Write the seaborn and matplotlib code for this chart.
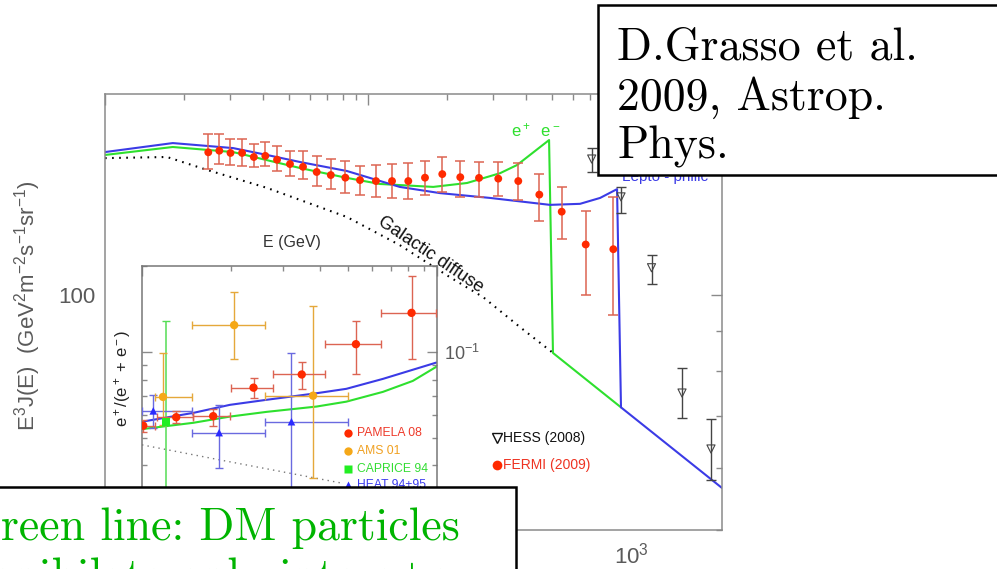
import matplotlib
matplotlib.use("Agg")
import matplotlib.pyplot as plt
import seaborn as sns
import numpy as np
import pandas as pd
from matplotlib.patches import Rectangle
from matplotlib.ticker import (FixedLocator, FixedFormatter, LogLocator,
                               NullFormatter, LogFormatterMathtext)

# ---------------- data (main panel: E [GeV], E^3 J(E)) ----------------
fermi_E = [24.7, 27.2, 30.0, 33.2, 36.8, 40.7, 45.1, 50.5, 56.6, 63.8, 72.2, 82.0, 93.2,
           107.2, 123.4, 142.3, 164.7, 191.6, 224.3, 264.3, 312.8, 372.7, 448.1, 545.1,
           672.6, 856.5]
fermi_J = [152.4, 153.1, 152.1, 152.1, 150.3, 150.8, 149.1, 147.2, 146.0, 143.8, 142.5,
           141.4, 140.4, 140.0, 140.0, 140.0, 141.4, 142.9, 141.6, 141.3, 141.0, 140.0,
           134.5, 127.9, 116.1, 114.5]
fermi_hi = [160.8, 160.8, 158.5, 158.5, 156.2, 157.0, 155.4, 153.1, 153.1, 150.8, 149.5,
            148.6, 146.3, 146.7, 147.2, 147.5, 148.6, 150.4, 148.5, 148.2, 148.2, 147.8,
            142.8, 137.4, 128.2, 133.7]
fermi_lo = [144.9, 147.1, 146.7, 146.3, 145.8, 146.2, 144.2, 142.1, 141.0, 138.0, 136.8,
            135.0, 134.4, 133.6, 133.2, 132.6, 134.2, 135.6, 133.7, 133.6, 133.9, 132.3,
            124.5, 118.0, 100.0, 94.3]

hess_E = [708.8, 916.2, 1196.7, 1563.0, 2014.0]
hess_J = [149.4, 133.6, 108.4, 74.9, 63.5]
hess_hi = [154.5, 137.7, 112.7, 80.7, 69.3]
hess_lo = [143.9, 127.4, 103.2, 69.6, 58.0]

lepto_E = [10.0, 18.1, 30.7, 41.3, 55.1, 83.2, 132.0, 188.0, 291.0, 492.0, 640.0, 763.0,
           885.0, 916.0, 2218.0]
lepto_J = [152.5, 156.6, 154.3, 151.2, 148.1, 144.2, 137.6, 135.1, 133.2, 130.5, 130.9,
           133.2, 136.7, 71.8, 56.6]

dm_E = [10.0, 18.1, 30.7, 41.3, 55.1, 83.2, 111.0, 177.0, 238.0, 318.0, 369.0, 488.0,
        505.0, 916.0]
dm_J = [151.2, 154.8, 152.5, 148.9, 145.5, 141.3, 138.8, 137.6, 139.2, 143.3, 146.8,
        158.0, 84.3, 71.8]

gal_E = [10.0, 17.2, 24.4, 41.3, 83.2, 132.0, 205.0, 274.0, 378.0, 501.0]
gal_J = [149.8, 150.3, 144.7, 137.2, 125.9, 115.9, 105.4, 99.4, 91.0, 84.5]

x_tick_labels = ['', '', r'$10^3$']
y_tick_labels = ['100']

# ---------------- data (inset: positron fraction) ----------------
pam_E = [10.10, 13.06, 17.43, 23.88, 34.79, 53.11, 81.98]
pam_xlo = [9.84, 11.21, 14.92, 19.96, 27.82, 41.86, 64.75]
pam_xhi = [11.07, 14.92, 19.86, 27.82, 41.86, 64.75, 99.4]
pam_f = [0.0551, 0.0590, 0.0595, 0.0749, 0.0833, 0.1064, 0.1370]
pam_flo = [0.0525, 0.0562, 0.0551, 0.0690, 0.0742, 0.0833, 0.0945]
pam_fhi = [0.0577, 0.0621, 0.0631, 0.0809, 0.0925, 0.1281, 0.1848]

ams_E = [11.78, 20.53, 38.00]
ams_xlo = [11.07, 14.73, 26.22]
ams_xhi = [14.73, 26.22, 49.90]
ams_f = [0.0695, 0.1241, 0.0702]
ams_flo = [0.0555, 0.0945, 0.0360]
ams_fhi = [0.0989, 0.1615, 0.1450]

cap_E = [12.06]
cap_f = [0.0567]
cap_flo = [0.020]
cap_fhi = [0.1288]

heat_E = [10.92, 18.26, 32.11]
heat_xlo = [10.0, 14.73, 26.22]
heat_xhi = [14.73, 26.22, 49.90]
heat_f = [0.0621, 0.0521, 0.0569]
heat_flo = [0.0540, 0.0393, 0.020]
heat_fhi = [0.0705, 0.0652, 0.0989]

in_blue_E = [10.0, 14.92, 19.86, 26.42, 39.02, 49.28, 65.56, 99.4]
in_blue_f = [0.0569, 0.0611, 0.0652, 0.0679, 0.0716, 0.0742, 0.0804, 0.0917]
in_green_E = [10.0, 14.92, 19.86, 26.42, 39.02, 49.28, 65.56, 82.81, 99.4]
in_green_f = [0.0536, 0.0564, 0.0593, 0.0616, 0.0643, 0.0669, 0.0724, 0.0791, 0.0886]
in_gal_E = [10.0, 18.37, 47.99]
in_gal_f = [0.0472, 0.0418, 0.0346]

legend_labels = ["PAMELA 08", "AMS 01", "CAPRICE 94", "HEAT 94+95"]

# ---------------- style ----------------
sns.set_theme(style="white")
plt.rcParams['font.family'] = ['Liberation Sans', 'DejaVu Sans']
plt.rcParams['mathtext.fontset'] = 'custom'
plt.rcParams['mathtext.rm'] = 'Liberation Sans'
plt.rcParams['mathtext.it'] = 'Liberation Sans:italic'
plt.rcParams['mathtext.bf'] = 'Liberation Sans:bold'
plt.rcParams['axes.unicode_minus'] = False

W, H = 997, 569
fig = plt.figure(figsize=(W / 100, H / 100), dpi=100)
fig.patch.set_facecolor('white')

GREEN = '#2ee02e'
BLUE = '#3b3be6'
RED = '#ff2a00'
RED_ERR = '#dc6452'
ORANGE = '#f5a818'
AXC = '#8a8a8a'
TXT = '#5a5a5a'

# ---------------- main axes ----------------
ax = fig.add_axes([105 / W, (H - 530) / H, 617 / W, 436 / H])
ax.set_xscale('log')
ax.set_yscale('log')

sns.lineplot(x=gal_E, y=gal_J, ax=ax, color='black', lw=1.5, linestyle=(0, (0.8, 2.6)),
             sort=False, estimator=None)
sns.lineplot(x=dm_E, y=dm_J, ax=ax, color=GREEN, lw=1.5, sort=False, estimator=None)
sns.lineplot(x=lepto_E, y=lepto_J, ax=ax, color=BLUE, lw=1.5, sort=False, estimator=None)

fJ = np.array(fermi_J)
ax.errorbar(fermi_E, fermi_J, yerr=[fJ - np.array(fermi_lo), np.array(fermi_hi) - fJ],
            fmt='none', ecolor=RED_ERR, elinewidth=1.1, capsize=3.3, capthick=1.1, zorder=4)
sns.scatterplot(x=fermi_E, y=fermi_J, ax=ax, color=RED, s=32, edgecolor='none', zorder=5)

hJ = np.array(hess_J)
ax.errorbar(hess_E, hess_J, yerr=[hJ - np.array(hess_lo), np.array(hess_hi) - hJ],
            fmt='none', ecolor='#444444', elinewidth=1.0, capsize=3.3, capthick=1.0, zorder=4)
sns.scatterplot(x=hess_E, y=hess_J, ax=ax, marker='v', color='#444444', s=34,
                linewidth=0.8, zorder=5)
ax.collections[-1].set_facecolor('none')
ax.collections[-1].set_edgecolor('#444444')

ax.set_xlim(10, 2218)
ax.set_ylim(50, 181)
ax.set_xlabel('')
ax.set_ylabel('')
ax.xaxis.set_major_locator(FixedLocator([10, 100, 1000]))
ax.xaxis.set_major_formatter(FixedFormatter(x_tick_labels))
ax.xaxis.set_minor_locator(LogLocator(base=10, subs=np.arange(2, 10)))
ax.xaxis.set_minor_formatter(NullFormatter())
ax.yaxis.set_major_locator(FixedLocator([100]))
ax.yaxis.set_major_formatter(FixedFormatter(y_tick_labels))
ax.yaxis.set_minor_locator(LogLocator(base=10, subs=np.arange(2, 10)))
ax.yaxis.set_minor_formatter(NullFormatter())
ax.tick_params(which='both', direction='in', top=True, right=True, color=AXC,
               labelcolor=TXT, labelsize=16, width=1.0)
ax.tick_params(which='major', length=8)
ax.tick_params(which='minor', length=4.3)
ax.tick_params(axis='y', pad=7)
ax.tick_params(axis='x', pad=9)
for s in ax.spines.values():
    s.set_color(AXC)
    s.set_linewidth(1.1)

# ---------------- inset axes ----------------
ins = fig.add_axes([142 / W, (H - 501) / H, 295 / W, 235 / H], zorder=5)
ins.set_facecolor('white')
ins.set_xscale('log')
ins.set_yscale('log')

sns.lineplot(x=in_gal_E, y=in_gal_f, ax=ins, color='#777777', lw=1.0,
             linestyle=(0, (1, 3)), sort=False, estimator=None)
sns.lineplot(x=in_green_E, y=in_green_f, ax=ins, color=GREEN, lw=1.5, sort=False, estimator=None)
sns.lineplot(x=in_blue_E, y=in_blue_f, ax=ins, color=BLUE, lw=1.5, sort=False, estimator=None)


def xy_err(E, xlo, xhi, f, flo, fhi):
    E = np.array(E); f = np.array(f)
    xerr = None if xlo is None else [E - np.array(xlo), np.array(xhi) - E]
    yerr = [f - np.array(flo), np.array(fhi) - f]
    return xerr, yerr


xe, ye = xy_err(cap_E, None, None, cap_f, cap_flo, cap_fhi)
ins.errorbar(cap_E, cap_f, yerr=ye, fmt='none', ecolor='#55dd55', elinewidth=1.1,
             capsize=3, zorder=3)
xe, ye = xy_err(heat_E, heat_xlo, heat_xhi, heat_f, heat_flo, heat_fhi)
ins.errorbar(heat_E, heat_f, xerr=xe, yerr=ye, fmt='none', ecolor='#6a6ae0', elinewidth=1.0,
             capsize=3, zorder=3)
xe, ye = xy_err(ams_E, ams_xlo, ams_xhi, ams_f, ams_flo, ams_fhi)
ins.errorbar(ams_E, ams_f, xerr=xe, yerr=ye, fmt='none', ecolor='#e5a83a', elinewidth=1.0,
             capsize=3, zorder=3)
xe, ye = xy_err(pam_E, pam_xlo, pam_xhi, pam_f, pam_flo, pam_fhi)
ins.errorbar(pam_E, pam_f, xerr=xe, yerr=ye, fmt='none', ecolor=RED_ERR, elinewidth=1.0,
             capsize=3, zorder=3)

sns.scatterplot(x=cap_E, y=cap_f, ax=ins, marker='s', color='#22ee22', s=30,
                edgecolor='none', zorder=5)
sns.scatterplot(x=heat_E, y=heat_f, ax=ins, marker='^', color='#2a2aff', s=30,
                edgecolor='none', zorder=5)
sns.scatterplot(x=ams_E, y=ams_f, ax=ins, marker='o', color=ORANGE, s=36,
                edgecolor='none', zorder=5)
sns.scatterplot(x=pam_E, y=pam_f, ax=ins, marker='o', color=RED, s=36,
                edgecolor='none', zorder=5)

ins.set_xlim(10, 100)
ins.set_ylim(0.03, 0.2)
ins.set_xlabel('')
ins.set_ylabel('')
ins.xaxis.set_major_locator(FixedLocator([10, 100]))
ins.xaxis.set_minor_locator(LogLocator(base=10, subs=np.arange(2, 10)))
ins.xaxis.set_major_formatter(NullFormatter())
ins.xaxis.set_minor_formatter(NullFormatter())
ins.yaxis.set_major_locator(FixedLocator([0.1]))
ins.yaxis.set_major_formatter(LogFormatterMathtext())
ins.yaxis.set_minor_locator(LogLocator(base=10, subs=np.arange(2, 10)))
ins.yaxis.set_minor_formatter(NullFormatter())
ins.tick_params(which='both', direction='in', top=True, right=True, left=True, bottom=True,
                color=AXC, labelcolor=TXT, width=1.0,
                labelleft=False, labelright=True, labelbottom=False, labeltop=False)
ins.tick_params(which='major', length=7, labelsize=13, pad=5)
ins.tick_params(which='minor', length=3.5)
for s in ins.spines.values():
    s.set_color('#777777')
    s.set_linewidth(1.1)

# inset legend
leg_colors = [RED, ORANGE, '#22ee22', '#2a2aff']
leg_txtc = ['#ee3a2a', '#f0a020', '#33dd33', '#3a3aee']
leg_mark = ['o', 'o', 's', '^']
leg_py = [433, 451, 469, 485]
for lab, c, tc, m, py in zip(legend_labels, leg_colors, leg_txtc, leg_mark, leg_py):
    ay = (501 - py) / 235
    ins.plot([(348 - 142) / 295], [ay], marker=m, color=c, ms=6, mec='none',
             transform=ins.transAxes, zorder=6, clip_on=False)
    ins.text((357 - 142) / 295, ay, lab, transform=ins.transAxes, color=tc,
             fontsize=8.7, va='center', ha='left', zorder=6)

# ---------------- overlay (pixel coordinates) ----------------
ov = fig.add_axes([0, 0, 1, 1], zorder=20)
ov.set_xlim(0, W)
ov.set_ylim(H, 0)
ov.axis('off')
ov.patch.set_alpha(0)

ov.text(28, 306, r'E$^3$J(E)  (GeV$^2$m$^{-2}$s$^{-1}$sr$^{-1}$)', rotation=90,
        ha='center', va='center', fontsize=16, color=TXT)
ov.text(122, 378, r'e$^+$/(e$^+$ + e$^-$)', rotation=90, ha='center', va='center',
        fontsize=12, color='#222222')
ov.text(292, 242, 'E (GeV)', ha='center', va='center', fontsize=11.5, color='#333333')
ov.text(431, 255, 'Galactic diffuse', rotation=-34, rotation_mode='anchor', ha='center',
        va='center', fontsize=13, color='#111111')
ov.text(536, 130, r'e$^+$  e$^-$', ha='center', va='center', fontsize=12, color=GREEN)
ov.text(622, 181, 'Lepto - philic', ha='left', va='baseline', fontsize=11, color=BLUE,
        zorder=1)

ov.plot([497], [438], marker='v', mfc='none', mec='#111111', ms=7, mew=1.0)
ov.text(503, 438, 'HESS (2008)', ha='left', va='center', fontsize=10, color='#111111')
ov.plot([497], [465], marker='o', color=RED, ms=7, mec='none')
ov.text(503, 465, 'FERMI (2009)', ha='left', va='center', fontsize=10, color='#ee3322')

# citation box
ov.add_patch(Rectangle((598, 5), 420, 170, facecolor='white', edgecolor='black',
                       linewidth=1.8, zorder=5, clip_on=False))
for line, yb in zip(['D.Grasso et al.', '2009, Astrop.', 'Phys.'], [60, 110, 158]):
    ov.text(617, yb, line, ha='left', va='baseline', fontsize=33, family='cmr10',
            color='black', zorder=6)

# bottom annotation box
ov.add_patch(Rectangle((-10, 487), 526, 120, facecolor='white', edgecolor='black',
                       linewidth=1.8, zorder=5, clip_on=False))
ov.text(-35, 540, 'Green line: DM particles', ha='left', va='baseline', fontsize=33,
        family='cmr10', color='#00b400', zorder=6)
ov.text(-35, 590, 'annihilate only into e+e-', ha='left', va='baseline', fontsize=33,
        family='cmr10', color='#00b400', zorder=6)

fig.savefig('out.png', dpi=100, facecolor='white')
